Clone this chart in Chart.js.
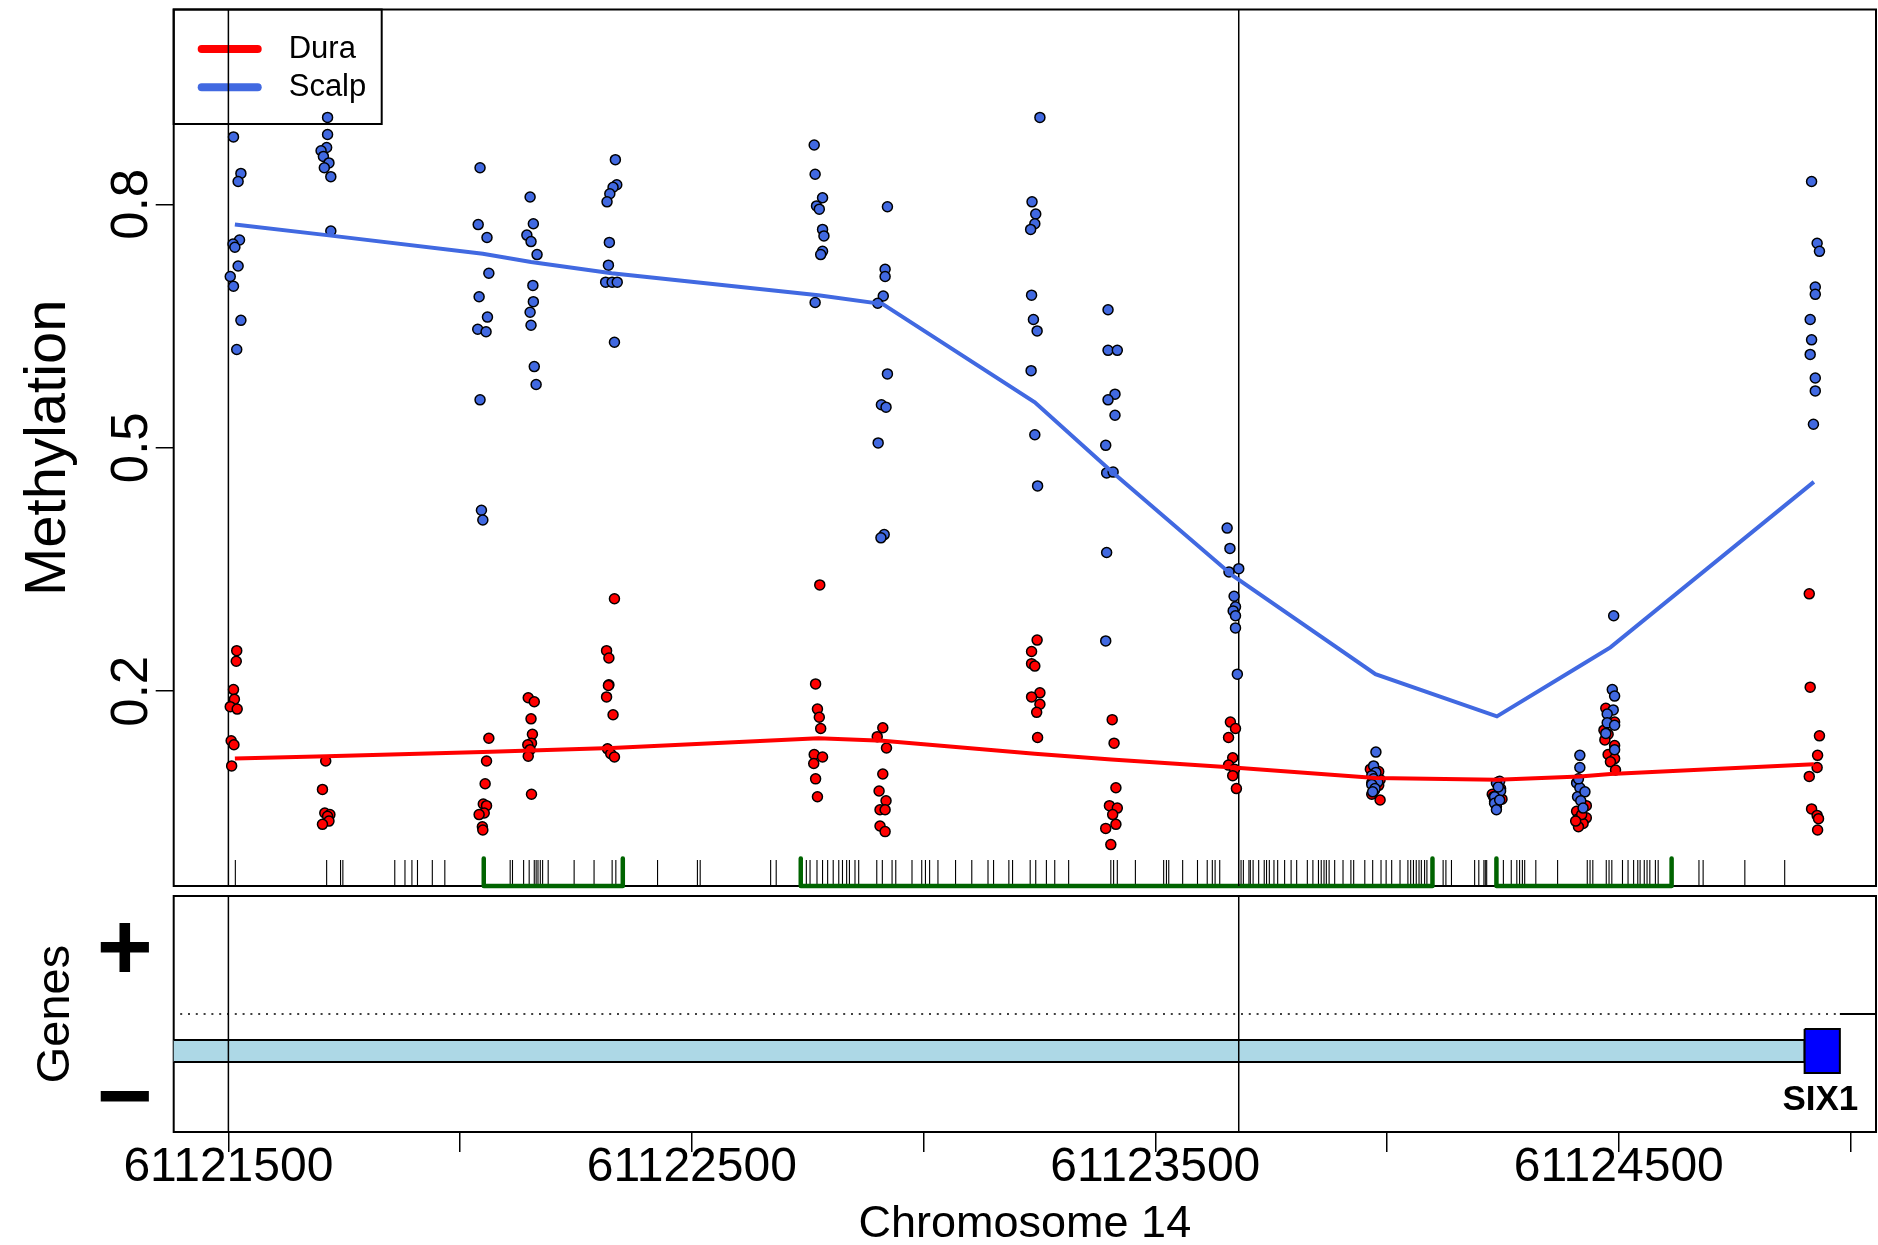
<!DOCTYPE html>
<html>
<head>
<meta charset="utf-8">
<script src="https://cdn.jsdelivr.net/npm/chart.js@4.4.1/dist/chart.umd.min.js"></script>
<style>
  html, body { margin: 0; padding: 0; background: #fff; }
  #page { position: relative; width: 1878px; height: 1245px; overflow: hidden; }
  .panel { position: absolute; left: 0; }
</style>
</head>
<body>
<div id="page">
  <canvas id="methChart" class="panel" width="1878" height="900" style="top:0"></canvas>
  <canvas id="geneChart" class="panel" width="1878" height="365" style="top:880px"></canvas>
</div>
<script>
const FONT = "'Liberation Sans', Arial, Helvetica, sans-serif";

// axes
const xRange = [61121382, 61125055];
const methRange = [-0.04, 1.04];
const methTicks = [0.2, 0.5, 0.8];
const methTickLabels = ['0.2', '0.5', '0.8'];
const xTicks = [61121500, 61122000, 61122500, 61123000, 61123500, 61124000, 61124500, 61125000];
const xTickLabels = [61121500, 61122500, 61123500, 61124500];
const dmrBounds = [61121500, 61123680];

const tissues = ['Dura', 'Scalp'];
const tissueColors = ['#FF0000', '#4169E1'];

// per-sample methylation [position, value]
const duraPoints = [
  [61121518,0.250],[61121517,0.237],[61121511,0.202],[61121513,0.190],[61121504,0.181],[61121519,0.178],[61121506,0.139],[61121512,0.134],[61121507,0.108],
  [61121710,0.114],[61121703,0.079],[61121708,0.050],[61121719,0.048],[61121714,0.046],[61121717,0.040],[61121703,0.036],
  [61122062,0.142],[61122057,0.114],[61122054,0.086],[61122050,0.061],[61122057,0.059],[61122052,0.050],[61122041,0.048],[61122048,0.033],[61122049,0.029],
  [61122147,0.192],[61122160,0.187],[61122153,0.166],[61122156,0.147],[61122154,0.136],[61122146,0.134],[61122151,0.128],[61122147,0.120],[61122154,0.073],
  [61122333,0.314],[61122316,0.250],[61122321,0.241],[61122321,0.208],[61122320,0.207],[61122316,0.193],[61122330,0.171],[61122318,0.129],[61122325,0.123],[61122333,0.119],
  [61122776,0.331],[61122767,0.209],[61122771,0.178],[61122775,0.168],[61122778,0.154],[61122764,0.122],[61122782,0.119],[61122763,0.111],[61122767,0.092],[61122771,0.070],
  [61122912,0.155],[61122900,0.144],[61122920,0.130],[61122912,0.098],[61122904,0.077],[61122919,0.065],[61122906,0.054],[61122917,0.054],[61122906,0.034],[61122917,0.027],
  [61123245,0.263],[61123233,0.249],[61123233,0.234],[61123240,0.231],[61123251,0.198],[61123233,0.193],[61123251,0.184],[61123244,0.174],[61123246,0.143],
  [61123407,0.165],[61123411,0.136],[61123415,0.081],[61123401,0.059],[61123418,0.056],[61123408,0.048],[61123415,0.036],[61123393,0.031],[61123404,0.011],
  [61123662,0.162],[61123673,0.154],[61123658,0.143],[61123667,0.118],[61123658,0.109],[61123671,0.104],[61123667,0.096],[61123675,0.080],
  [61123964,0.104],[61123982,0.101],[61123975,0.097],[61123970,0.094],[61123985,0.091],[61123967,0.087],[61123982,0.084],[61123973,0.078],[61123967,0.073],[61123985,0.066],
  [61124240,0.088],[61124227,0.073],[61124248,0.067],[61124232,0.064],[61124236,0.058],[61124245,0.080],[61124230,0.070],
  [61124430,0.059],[61124409,0.052],[61124430,0.044],[61124413,0.043],[61124423,0.037],[61124413,0.033],[61124420,0.048],[61124407,0.040],
  [61124472,0.179],[61124491,0.162],[61124468,0.152],[61124477,0.147],[61124470,0.140],[61124491,0.133],[61124477,0.122],[61124491,0.117],[61124482,0.113],[61124493,0.103],
  [61124911,0.320],[61124913,0.205],[61124933,0.145],[61124929,0.121],[61124928,0.106],[61124911,0.095],[61124916,0.055],[61124928,0.047],[61124931,0.043],[61124929,0.029]
];
const scalpPoints = [
  [61121511,0.883],[61121527,0.838],[61121521,0.828],[61121524,0.756],[61121510,0.751],[61121514,0.747],[61121521,0.724],[61121504,0.711],[61121511,0.699],[61121527,0.657],[61121518,0.621],
  [61121714,0.907],[61121714,0.886],[61121712,0.870],[61121700,0.866],[61121705,0.859],[61121717,0.851],[61121707,0.845],[61121721,0.834],[61121721,0.767],
  [61122043,0.845],[61122039,0.775],[61122058,0.759],[61122062,0.715],[61122041,0.686],[61122059,0.661],[61122038,0.646],[61122056,0.643],[61122043,0.559],[61122046,0.423],[61122049,0.411],
  [61122151,0.809],[61122158,0.776],[61122144,0.762],[61122153,0.754],[61122166,0.738],[61122157,0.700],[61122158,0.680],[61122151,0.667],[61122153,0.651],[61122160,0.600],[61122164,0.578],
  [61122335,0.855],[61122338,0.824],[61122330,0.821],[61122323,0.813],[61122317,0.803],[61122322,0.753],[61122320,0.725],[61122314,0.704],[61122328,0.704],[61122339,0.704],[61122333,0.630],
  [61122764,0.873],[61122766,0.837],[61122782,0.808],[61122769,0.798],[61122775,0.794],[61122782,0.769],[61122785,0.761],[61122782,0.742],[61122778,0.738],[61122766,0.679],
  [61122922,0.797],[61122917,0.720],[61122917,0.711],[61122913,0.687],[61122901,0.678],[61122922,0.591],[61122909,0.553],[61122919,0.550],[61122902,0.506],[61122915,0.393],[61122908,0.389],
  [61123251,0.907],[61123234,0.803],[61123242,0.788],[61123240,0.776],[61123231,0.769],[61123233,0.688],[61123237,0.658],[61123245,0.644],[61123232,0.595],[61123240,0.516],[61123246,0.453],
  [61123398,0.670],[61123398,0.620],[61123418,0.620],[61123413,0.566],[61123398,0.559],[61123413,0.540],[61123393,0.503],[61123395,0.469],[61123409,0.470],[61123395,0.371],[61123393,0.262],
  [61123655,0.401],[61123661,0.376],[61123680,0.351],[61123659,0.347],[61123670,0.317],[61123673,0.304],[61123668,0.299],[61123673,0.293],[61123673,0.278],[61123677,0.221],
  [61123976,0.125],[61123971,0.108],[61123976,0.100],[61123967,0.096],[61123971,0.092],[61123980,0.088],[61123967,0.085],[61123974,0.080],[61123969,0.076],
  [61124243,0.089],[61124236,0.087],[61124245,0.077],[61124232,0.070],[61124232,0.062],[61124236,0.054],[61124240,0.082],[61124243,0.066],
  [61124416,0.121],[61124416,0.106],[61124409,0.087],[61124416,0.081],[61124411,0.070],[61124427,0.076],[61124418,0.065],[61124423,0.056],[61124413,0.092],
  [61124489,0.293],[61124486,0.202],[61124491,0.194],[61124488,0.177],[61124475,0.172],[61124475,0.161],[61124491,0.158],[61124472,0.148],[61124491,0.128],
  [61124916,0.828],[61124928,0.752],[61124933,0.742],[61124924,0.698],[61124924,0.689],[61124913,0.658],[61124916,0.633],[61124913,0.615],[61124924,0.586],[61124924,0.570],[61124920,0.529]
];

// smoothed group means
const smoothPos = [61121514, 61121712, 61122049, 61122153, 61122327, 61122773, 61122912, 61123240, 61123405, 61123668, 61123975, 61124237, 61124416, 61124482, 61124921];
const duraSmooth = [0.117, 0.120, 0.125, 0.127, 0.130, 0.142, 0.139, 0.123, 0.116, 0.106, 0.093, 0.091, 0.095, 0.098, 0.110];
const scalpSmooth = [0.775, 0.762, 0.739, 0.729, 0.715, 0.688, 0.677, 0.556, 0.471, 0.342, 0.221, 0.169, 0.231, 0.254, 0.458];

// CpG rug and islands
const cpgPos = [
  61121515, 61121712, 61121742, 61121747, 61121859, 61121881, 61121896, 61121908, 61121940, 61121967,
  61122108, 61122113, 61122137, 61122149, 61122160, 61122164, 61122168, 61122173, 61122178, 61122190,
  61122246, 61122289, 61122328, 61122336, 61122426, 61122512, 61122518, 61122670, 61122682,
  61122747, 61122755, 61122770, 61122782, 61122793, 61122805, 61122817, 61122825, 61122834, 61122840,
  61122852, 61122860, 61122899, 61122911, 61122932, 61122940, 61122975, 61122996, 61123004, 61123013,
  61123031, 61123069, 61123104, 61123139, 61123151, 61123184, 61123192,
  61123230, 61123242, 61123265, 61123283, 61123313, 61123404, 61123410, 61123418, 61123457,
  61123518, 61123524, 61123529, 61123559, 61123591, 61123612, 61123623, 61123629, 61123639,
  61123685, 61123690, 61123702, 61123705, 61123711, 61123723, 61123735, 61123740, 61123746, 61123756,
  61123764, 61123779, 61123793, 61123805, 61123828, 61123840, 61123852, 61123858, 61123864, 61123869,
  61123875, 61123887, 61123905, 61123922, 61123928, 61123952, 61123969, 61123987, 61123998, 61124010,
  61124028, 61124045, 61124051, 61124057, 61124063, 61124069, 61124074, 61124081, 61124086,
  61124121, 61124127, 61124139, 61124189, 61124198, 61124209, 61124212, 61124215, 61124237,
  61124251, 61124268, 61124280, 61124286, 61124292, 61124297, 61124321, 61124368,
  61124432, 61124438, 61124444, 61124473, 61124479, 61124485, 61124508, 61124520, 61124532,
  61124541, 61124546, 61124555, 61124561, 61124567, 61124579, 61124585, 61124673, 61124682, 61124772, 61124858
];
const islandStarts = [61122051, 61122735, 61124236];
const islandEnds = [61122351, 61124098, 61124614];
const rugLevel = -0.024;
const islandLevels = [-0.006, -0.04];

// gene track
const geneRange = [-1, 1];
const strandTicks = [0.51, -0.745];
const strandLabels = ['+', '\u2212'];
const geneName = 'SIX1';
const geneBody = [61121300, 61124901];
const geneBodyLevels = [-0.22, -0.407];
const geneExon = [61124901, 61124977];
const geneExonLevels = [-0.127, -0.5];
const geneLabelAt = [61124935, -0.814];
const strandLine = [61121396, 61124977];

const pts = arr => arr.map(([x, y]) => ({ x, y }));
const seg = (xs, ys) => xs.map((x, i) => ({ x, y: ys[i] }));
const box = (xs, ys) => seg([xs[0], xs[1], xs[1], xs[0], xs[0]], [ys[0], ys[0], ys[1], ys[1], ys[0]]);

const frame = {
  id: 'frame',
  beforeDatasetsDraw(chart) {
    const { ctx, chartArea: a } = chart;
    ctx.save();
    ctx.strokeStyle = '#000';
    ctx.lineWidth = 2;
    ctx.strokeRect(a.left, a.top, a.right - a.left, a.bottom - a.top);
    ctx.restore();
  }
};

const boxLegend = {
  id: 'boxLegend',
  beforeDatasetsDraw(chart) {
    const { ctx, chartArea: a } = chart;
    const items = chart.data.datasets.filter(d => d.legendItem);
    ctx.save();
    ctx.strokeStyle = '#000';
    ctx.lineWidth = 2;
    ctx.strokeRect(a.left, a.top, 208, 114.5);
    ctx.font = `31px ${FONT}`;
    ctx.textBaseline = 'middle';
    ctx.fillStyle = '#000';
    items.forEach((d, i) => {
      const y = a.top + 39.5 + i * 38.3;
      ctx.strokeStyle = d.borderColor;
      ctx.lineWidth = 8;
      ctx.lineCap = 'round';
      ctx.beginPath();
      ctx.moveTo(a.left + 28, y);
      ctx.lineTo(a.left + 84, y);
      ctx.stroke();
      ctx.fillText(d.label, a.left + 115, y);
    });
    ctx.restore();
  }
};

// R draws y tick labels parallel to the axis
const uprightTicks = {
  id: 'uprightTicks',
  afterDraw(chart) {
    const { ctx } = chart;
    const scale = chart.scales.y;
    ctx.save();
    ctx.font = `51px ${FONT}`;
    ctx.fillStyle = '#000';
    ctx.textAlign = 'center';
    ctx.textBaseline = 'alphabetic';
    scale.ticks.forEach((t, i) => {
      ctx.save();
      ctx.translate(scale.right - 26.7, scale.getPixelForValue(t.value));
      ctx.rotate(-Math.PI / 2);
      ctx.fillText(methTickLabels[i], 0, 0);
      ctx.restore();
    });
    ctx.restore();
  }
};

const geneLabel = {
  id: 'geneLabel',
  afterDatasetsDraw(chart) {
    const { ctx, scales: { x, y } } = chart;
    ctx.save();
    ctx.font = `bold 35px ${FONT}`;
    ctx.fillStyle = '#000';
    ctx.textAlign = 'center';
    ctx.textBaseline = 'alphabetic';
    ctx.fillText(geneName, x.getPixelForValue(geneLabelAt[0]), y.getPixelForValue(geneLabelAt[1]));
    ctx.restore();
  }
};

// fixed panel geometry: no label overflow padding
const fixWidth = s => { s.width = 173.7; s.paddingTop = 0; s.paddingBottom = 0; };
const fixHeight = s => { s.height = 113; s.paddingLeft = 0; s.paddingRight = 0; };

const lineSet = (data, color, width, extra) => Object.assign({
  data, showLine: true, borderColor: color, borderWidth: width, pointRadius: 0, tension: 0, fill: false
}, extra || {});

const pointSet = (data, color, order) => ({
  data, showLine: false, pointRadius: 5, pointBorderWidth: 1.5,
  pointBorderColor: '#000', pointBackgroundColor: color, order
});

const methDatasets = [
  lineSet(seg(smoothPos, duraSmooth), tissueColors[0], 4, { label: tissues[0], legendItem: true, order: 0 }),
  lineSet(seg(smoothPos, scalpSmooth), tissueColors[1], 4, { label: tissues[1], legendItem: true, order: 0 }),
  pointSet(pts(scalpPoints), tissueColors[1], 1),
  pointSet(pts(duraPoints), tissueColors[0], 2),
  ...dmrBounds.map(b => lineSet(seg([b, b], methRange), '#000', 1.5, { order: 4 })),
  ...islandStarts.map((s, i) => lineSet(
    seg([s, s, islandEnds[i], islandEnds[i]], [islandLevels[0], islandLevels[1], islandLevels[1], islandLevels[0]]),
    '#006400', 4.5, { borderCapStyle: 'round', borderJoinStyle: 'round', clip: 4, order: 5 })),
  {
    data: cpgPos.map(x => ({ x, y: rugLevel })), showLine: false, pointStyle: 'line', pointRotation: 90,
    pointRadius: 13, pointBorderWidth: 1.1, pointBorderColor: '#000', order: 6
  }
];

new Chart(document.getElementById('methChart'), {
  type: 'line',
  data: { datasets: methDatasets },
  options: {
    responsive: false,
    animation: false,
    events: [],
    layout: { autoPadding: false, padding: { top: 9.5, right: 2, bottom: 14, left: 0 } },
    plugins: { legend: { display: false }, tooltip: { enabled: false } },
    scales: {
      x: { type: 'linear', min: xRange[0], max: xRange[1], display: false },
      y: {
        min: methRange[0], max: methRange[1],
        afterBuildTicks: s => { s.ticks = methTicks.map(v => ({ value: v })); },
        afterFit: fixWidth,
        grid: { drawOnChartArea: false, drawTicks: true, tickLength: 18, color: '#000', lineWidth: 1.5 },
        border: { display: false },
        ticks: { display: false },
        title: {
          display: true, text: 'Methylation', color: '#000',
          font: { family: FONT, size: 58 }, padding: { top: 14, bottom: 0 }
        }
      }
    }
  },
  plugins: [frame, boxLegend, uprightTicks]
});

const geneDatasets = [
  lineSet(box(geneExon, geneExonLevels), '#000', 2, { fill: 'shape', backgroundColor: '#0000FF', order: 1 }),
  lineSet(box(geneBody, geneBodyLevels), '#000', 2, { fill: 'shape', backgroundColor: '#ADD8E6', order: 2 }),
  lineSet(seg(strandLine, [0, 0]), '#000', 1.5, { borderDash: [2, 5.8], order: 3 }),
  lineSet(seg([geneExon[1], xRange[1]], [0, 0]), '#000', 2.2, { order: 3 }),
  ...dmrBounds.map(b => lineSet(seg([b, b], geneRange), '#000', 1.5, { order: 0 }))
];

new Chart(document.getElementById('geneChart'), {
  type: 'line',
  data: { datasets: geneDatasets },
  options: {
    responsive: false,
    animation: false,
    events: [],
    layout: { autoPadding: false, padding: { top: 16, right: 2, bottom: 0, left: 0 } },
    plugins: { legend: { display: false }, tooltip: { enabled: false } },
    scales: {
      x: {
        type: 'linear', min: xRange[0], max: xRange[1],
        afterBuildTicks: s => { s.ticks = xTicks.map(v => ({ value: v })); },
        afterFit: fixHeight,
        grid: { drawOnChartArea: false, drawTicks: true, tickLength: 20, color: '#000', lineWidth: 1.5 },
        border: { display: false },
        ticks: {
          autoSkip: false, maxRotation: 0, minRotation: 0, padding: -13, color: '#000',
          font: { family: FONT, size: 48 },
          callback: v => xTickLabels.includes(v) ? String(v) : ''
        },
        title: {
          display: true, text: 'Chromosome 14', color: '#000',
          font: { family: FONT, size: 45, lineHeight: 0.9 }, padding: { top: 0, bottom: 0 }
        }
      },
      y: {
        min: geneRange[0], max: geneRange[1],
        afterBuildTicks: s => { s.ticks = strandTicks.map(v => ({ value: v })); },
        afterFit: fixWidth,
        grid: { display: false },
        border: { display: false },
        ticks: {
          autoSkip: false, padding: 13, color: '#000',
          font: { family: FONT, size: 96, weight: 'bold' },
          callback: v => strandLabels[strandTicks.indexOf(v)]
        },
        title: {
          display: true, text: 'Genes', color: '#000',
          font: { family: FONT, size: 47 }, padding: { top: 27.5, bottom: 0 }
        }
      }
    }
  },
  plugins: [frame, geneLabel]
});
</script>
</body>
</html>
